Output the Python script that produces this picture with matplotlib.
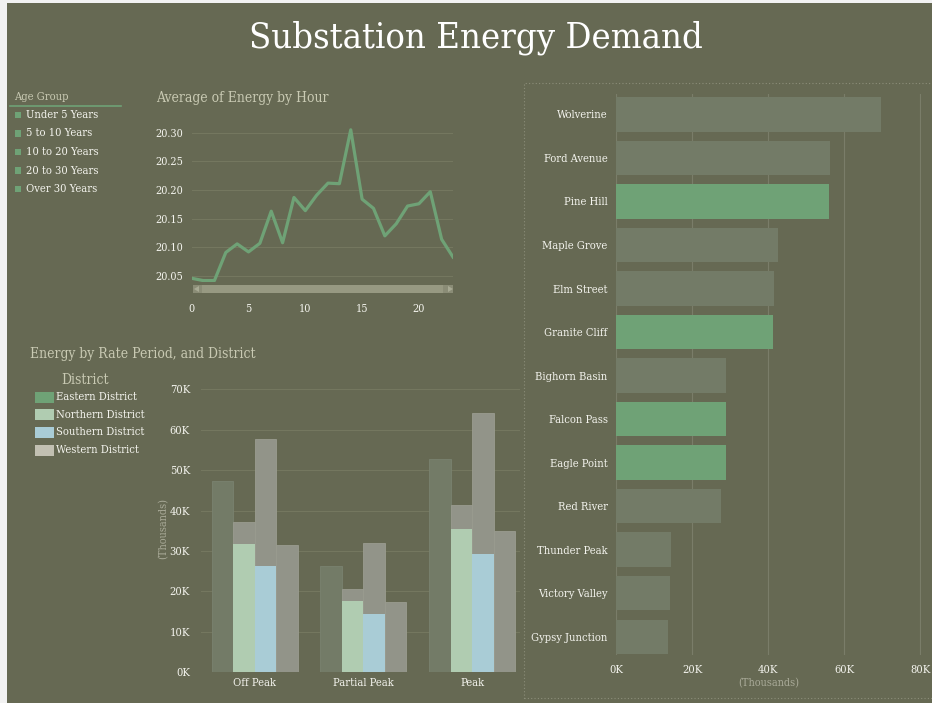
import numpy as np
import matplotlib
matplotlib.use("Agg")
import matplotlib.pyplot as plt
from matplotlib.patches import Rectangle, Polygon

# ---- data ----
hours = list(range(24))
avg_energy = [20.046, 20.042, 20.042, 20.091, 20.106, 20.092, 20.107, 20.163,
              20.108, 20.187, 20.164, 20.191, 20.212, 20.211, 20.305, 20.184,
              20.168, 20.120, 20.141, 20.172, 20.176, 20.197, 20.114, 20.083]

age_groups = ["Under 5 Years", "5 to 10 Years", "10 to 20 Years",
              "20 to 30 Years", "Over 30 Years"]

periods = ["Off Peak", "Partial Peak", "Peak"]
districts = ["Eastern District", "Northern District", "Southern District",
             "Western District"]
eastern = [47.4, 26.4, 52.7]
northern_total = [37.2, 20.5, 41.4]
northern_sel = [31.7, 17.6, 35.4]
southern_total = [57.8, 31.9, 64.1]
southern_sel = [26.4, 14.5, 29.3]
western = [31.4, 17.4, 35.0]

substations = ["Wolverine", "Ford Avenue", "Pine Hill", "Maple Grove",
               "Elm Street", "Granite Cliff", "Bighorn Basin", "Falcon Pass",
               "Eagle Point", "Red River", "Thunder Peak", "Victory Valley",
               "Gypsy Junction"]
sub_energy = [69.7, 56.3, 56.1, 42.7, 41.6, 41.4, 29.0, 28.9, 28.9, 27.7,
              14.4, 14.1, 13.6]
sub_selected = ["Pine Hill", "Granite Cliff", "Falcon Pass", "Eagle Point"]

# ---- style ----
BG = "#666953"
GREEN = "#6fa276"
DIM = "#737b67"
GRAYBAR = "#929489"
LGREEN = "#b0ccb1"
LBLUE = "#a9ccd6"
BEIGE = "#c2c0b2"
TITLE_C = "#c9cab3"
TICK_C = "#f4f4ee"
GRID_C = "#74775f"

plt.rcParams["font.family"] = ["DejaVu Serif"]
plt.rcParams["font.stretch"] = "condensed"

W, H = 932, 703
fig = plt.figure(figsize=(W / 100, H / 100), dpi=100)
fig.patch.set_facecolor(BG)


def fx(x):
    return x / W


def fy(y):
    return 1 - y / H


def axes_px(left, top, right, bottom):
    return fig.add_axes([fx(left), fy(bottom), (right - left) / W, (bottom - top) / H])


# page edges
fig.add_artist(Rectangle((0, 0), fx(7), 1, transform=fig.transFigure,
                         facecolor="#f2f2f2", edgecolor="none"))
fig.add_artist(Rectangle((0, fy(3)), 1, 3 / H, transform=fig.transFigure,
                         facecolor="#f2f2f2", edgecolor="none"))

fig.text(fx(476), fy(38), "Substation Energy Demand", color="white",
         fontsize=26, ha="center", va="center")

# ---- age group slicer ----
fig.text(fx(14), fy(97), "Age Group", color=TITLE_C, fontsize=8, va="center")
fig.add_artist(plt.Line2D([fx(10), fx(121)], [fy(106), fy(106)], color=GREEN,
                          lw=1.2, transform=fig.transFigure))
for i, g in enumerate(age_groups):
    yy = 115 + i * 18.5
    fig.add_artist(Rectangle((fx(15), fy(yy + 3)), 6 / W, 6 / H,
                             transform=fig.transFigure, facecolor=GREEN,
                             edgecolor="none"))
    fig.text(fx(26), fy(yy), g, color=TICK_C, fontsize=8, va="center")

# ---- line chart ----
ax1 = axes_px(191.7, 125, 453, 282)
ax1.set_facecolor(BG)
ax1.plot(hours, avg_energy, color=GREEN, lw=2.3, solid_joinstyle="round")
ax1.set_xlim(0, 23)
ax1.set_ylim(20.0395, 20.3134)
ax1.set_yticks([20.05, 20.10, 20.15, 20.20, 20.25, 20.30])
ax1.set_yticklabels(["20.05", "20.10", "20.15", "20.20", "20.25", "20.30"])
ax1.set_xticks([0, 5, 10, 15, 20])
ax1.tick_params(colors=TICK_C, labelsize=7.8, length=0)
ax1.tick_params(axis="x", pad=16)
ax1.tick_params(axis="y", pad=6)
ax1.grid(axis="y", color=GRID_C, lw=0.8)
ax1.set_axisbelow(True)
for s in ax1.spines.values():
    s.set_visible(False)
fig.text(fx(156), fy(98), "Average of Energy by Hour", color=TITLE_C,
         fontsize=10, va="center")

# scroll bar under the line chart
fig.add_artist(Rectangle((fx(193), fy(293)), 260 / W, 8 / H,
                         transform=fig.transFigure, facecolor="#8a8c76",
                         edgecolor="none"))
fig.add_artist(Rectangle((fx(202), fy(293)), 241 / W, 8 / H,
                         transform=fig.transFigure, facecolor="#979982",
                         edgecolor="none"))
fig.add_artist(Polygon([[fx(194), fy(289)], [fx(199), fy(286)],
                        [fx(199), fy(292)]], transform=fig.transFigure,
                       facecolor="#a8aa94", edgecolor="none"))
fig.add_artist(Polygon([[fx(453), fy(289)], [fx(448), fy(286)],
                        [fx(448), fy(292)]], transform=fig.transFigure,
                       facecolor="#a8aa94", edgecolor="none"))

# ---- clustered bars ----
fig.text(fx(30), fy(354), "Energy by Rate Period, and District",
         color=TITLE_C, fontsize=10, va="center")
fig.text(fx(85), fy(380), "District", color=TITLE_C, fontsize=10,
         ha="center", va="center")
legend_colors = [GREEN, LGREEN, LBLUE, BEIGE]
for i, (d, c) in enumerate(zip(districts, legend_colors)):
    yy = 397 + i * 17.7
    fig.add_artist(Rectangle((fx(35), fy(yy + 5.5)), 19 / W, 11 / H,
                             transform=fig.transFigure, facecolor=c,
                             edgecolor="none"))
    fig.text(fx(56), fy(yy), d, color=TICK_C, fontsize=8, va="center")

ax2 = axes_px(201, 385, 520, 672.3)
ax2.set_facecolor(BG)
x = np.arange(len(periods))
bw = 0.198
ax2.bar(x - 1.5 * bw, eastern, bw, color=DIM, edgecolor="#7a8270", lw=0.6)
ax2.bar(x - 0.5 * bw, northern_total, bw, color=GRAYBAR, edgecolor="#9a9c90", lw=0.6)
ax2.bar(x - 0.5 * bw, northern_sel, bw, color=LGREEN, edgecolor="none")
ax2.bar(x + 0.5 * bw, southern_total, bw, color=GRAYBAR, edgecolor="#9a9c90", lw=0.6)
ax2.bar(x + 0.5 * bw, southern_sel, bw, color=LBLUE, edgecolor="none")
ax2.bar(x + 1.5 * bw, western, bw, color=GRAYBAR, edgecolor="#9a9c90", lw=0.6)
ax2.set_xlim(-0.494, 2.44)
ax2.set_ylim(0, 71.06)
yt = [0, 10, 20, 30, 40, 50, 60, 70]
ax2.set_yticks(yt)
ax2.set_yticklabels([f"{v}K" for v in yt])
ax2.set_xticks(x)
ax2.set_xticklabels(periods)
ax2.tick_params(colors=TICK_C, labelsize=8, length=0)
ax2.tick_params(axis="y", pad=8)
ax2.tick_params(axis="x", pad=4)
ax2.grid(axis="y", color=GRID_C, lw=0.8)
ax2.set_axisbelow(True)
for s in ax2.spines.values():
    s.set_visible(False)
ax2.set_ylabel("(Thousands)", color="#a9aa98", fontsize=7.8, labelpad=1)

# ---- substation bars ----
fig.add_artist(Rectangle((fx(524), fy(698)), (W - 524 + 5) / W, 615 / H,
                         transform=fig.transFigure, facecolor="none",
                         edgecolor="#8c8e7a", lw=0.8, linestyle=(0, (1, 2))))
ax3 = axes_px(616, 94, 921, 655)
ax3.set_facecolor(BG)
ys = np.arange(len(substations))
cols = [GREEN if s in sub_selected else DIM for s in substations]
ax3.barh(ys, sub_energy, height=0.79, color=cols, edgecolor="none")
ax3.set_ylim(12.42, -0.47)
ax3.set_xlim(0, 80.26)
xt = [0, 20, 40, 60, 80]
ax3.set_xticks(xt)
ax3.set_xticklabels([f"{v}K" for v in xt])
ax3.set_yticks(ys)
ax3.set_yticklabels(substations)
ax3.tick_params(colors=TICK_C, labelsize=8, length=0)
ax3.tick_params(axis="y", pad=6)
ax3.tick_params(axis="x", pad=7)
ax3.grid(axis="x", color="#7a7d69", lw=0.8)
ax3.set_axisbelow(True)
for s in ax3.spines.values():
    s.set_visible(False)
ax3.set_xlabel("(Thousands)", color="#a9aa98", fontsize=7.8, labelpad=2)

fig.savefig("out.png", dpi=100, facecolor=fig.get_facecolor())
